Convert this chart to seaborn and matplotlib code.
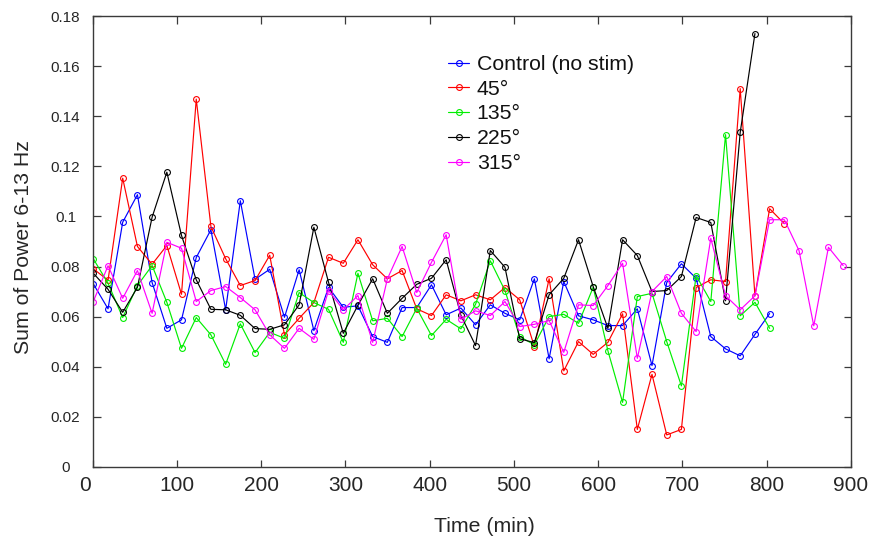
import matplotlib
matplotlib.use("Agg")
import matplotlib.pyplot as plt
from matplotlib.transforms import ScaledTranslation
import seaborn as sns

# Sampling times (min)
time_min = [0.7, 18.2, 35.6, 53.1, 70.5, 88.0, 105.4, 122.9, 140.3, 157.8,
            175.2, 192.7, 210.1, 227.6, 245.0, 262.5, 279.9, 297.4, 314.8, 332.3,
            349.7, 367.2, 384.6, 402.1, 419.5, 437.0, 454.4, 471.9, 489.3, 506.8,
            524.2, 541.7, 559.1, 576.6, 594.0, 611.5, 628.9, 646.4, 663.8, 681.3,
            698.7, 716.2, 733.6, 751.1, 768.5, 786.0, 803.4, 820.9, 838.3, 855.8,
            873.2, 890.7]

# Summed 6-13 Hz power per condition
control = [0.0731, 0.0631, 0.0977, 0.1087, 0.0736, 0.0553, 0.0587, 0.0836, 0.0947, 0.0627,
           0.1063, 0.0749, 0.0789, 0.0597, 0.0787, 0.0544, 0.0717, 0.0637, 0.0643, 0.0520,
           0.0497, 0.0636, 0.0636, 0.0727, 0.0607, 0.0634, 0.0567, 0.0647, 0.0613, 0.0587,
           0.0751, 0.0431, 0.0740, 0.0603, 0.0587, 0.0564, 0.0564, 0.0631, 0.0404, 0.0736,
           0.0811, 0.0753, 0.0520, 0.0471, 0.0443, 0.0529, 0.0612]
deg45 = [0.0791, 0.0745, 0.1153, 0.0880, 0.0809, 0.0884, 0.0689, 0.1469, 0.0960, 0.0831,
         0.0724, 0.0744, 0.0845, 0.0527, 0.0593, 0.0656, 0.0837, 0.0813, 0.0907, 0.0807,
         0.0751, 0.0784, 0.0631, 0.0604, 0.0687, 0.0663, 0.0687, 0.0667, 0.0716, 0.0667,
         0.0480, 0.0751, 0.0383, 0.0500, 0.0449, 0.0497, 0.0611, 0.0149, 0.0369, 0.0127,
         0.0149, 0.0716, 0.0747, 0.0740, 0.1511, 0.0683, 0.1031, 0.0971]
deg135 = [0.0831, 0.0733, 0.0596, 0.0724, 0.0804, 0.0657, 0.0473, 0.0596, 0.0527, 0.0409,
          0.0571, 0.0456, 0.0537, 0.0513, 0.0696, 0.0656, 0.0629, 0.0497, 0.0773, 0.0583,
          0.0593, 0.0520, 0.0633, 0.0524, 0.0589, 0.0551, 0.0649, 0.0823, 0.0704, 0.0520,
          0.0487, 0.0600, 0.0609, 0.0573, 0.0717, 0.0463, 0.0257, 0.0680, 0.0693, 0.0500,
          0.0323, 0.0764, 0.0660, 0.1327, 0.0603, 0.0657, 0.0553]
deg225 = [0.0773, 0.0709, 0.0617, 0.0717, 0.0997, 0.1177, 0.0924, 0.0747, 0.0629, 0.0627,
          0.0605, 0.0552, 0.0549, 0.0567, 0.0647, 0.0957, 0.0737, 0.0533, 0.0645, 0.0751,
          0.0613, 0.0673, 0.0729, 0.0753, 0.0827, 0.0605, 0.0484, 0.0864, 0.0797, 0.0511,
          0.0496, 0.0687, 0.0753, 0.0907, 0.0720, 0.0553, 0.0907, 0.0844, 0.0700, 0.0704,
          0.0760, 0.0996, 0.0976, 0.0663, 0.1336, 0.1731]
deg315 = [0.0660, 0.0803, 0.0673, 0.0784, 0.0613, 0.0897, 0.0873, 0.0660, 0.0704, 0.0720,
          0.0676, 0.0627, 0.0527, 0.0473, 0.0553, 0.0509, 0.0704, 0.0627, 0.0684, 0.0497,
          0.0750, 0.0880, 0.0696, 0.0817, 0.0927, 0.0589, 0.0623, 0.0604, 0.0660, 0.0560,
          0.0569, 0.0584, 0.0457, 0.0647, 0.0644, 0.0724, 0.0813, 0.0433, 0.0700, 0.0760,
          0.0613, 0.0540, 0.0913, 0.0683, 0.0627, 0.0683, 0.0987, 0.0987, 0.0864, 0.0563,
          0.0877, 0.0804]

series_labels = ["Control (no stim)", "45°", "135°", "225°", "315°"]
series_colors = ["#0000ff", "#ff0000", "#00ee00", "#000000", "#ff00ff"]
series_values = [control, deg45, deg135, deg225, deg315]

x_ticks = [0, 100, 200, 300, 400, 500, 600, 700, 800, 900]
y_ticks = [0, 0.02, 0.04, 0.06, 0.08, 0.10, 0.12, 0.14, 0.16, 0.18]
y_tick_labels = ["0", "0.02", "0.04", "0.06", "0.08", "0.1", "0.12", "0.14", "0.16", "0.18"]

sns.set_theme(style="ticks")
plt.rcParams["font.family"] = ["Liberation Sans", "DejaVu Sans"]
ink = "#262626"
frame = "#3a3a3a"

W, H = 869, 542
fig = plt.figure(figsize=(W / 100, H / 100), dpi=100)
left, right, top, bottom = 92.7, 851.0, 16.3, 466.7
ax = fig.add_axes([left / W, 1 - bottom / H, (right - left) / W, (bottom - top) / H])

for vals, lab, col in zip(series_values, series_labels, series_colors):
    sns.lineplot(x=time_min[:len(vals)], y=vals, ax=ax, color=col, label=lab,
                 linewidth=0.85, marker="o", markersize=4.2,
                 markerfacecolor="none", markeredgecolor=col, markeredgewidth=0.8,
                 errorbar=None, sort=False)

ax.set_xlim(0, 900)
ax.set_ylim(0, 0.18)
ax.set_xticks(x_ticks)
ax.set_xticklabels([str(v) for v in x_ticks])
ax.set_yticks(y_ticks)
ax.set_yticklabels(y_tick_labels)

for sp in ax.spines.values():
    sp.set_visible(True)
    sp.set_color(frame)
    sp.set_linewidth(1.0)

ax.tick_params(direction="in", length=5.4, width=0.9, color=frame,
               top=True, right=True, labelcolor=ink)
ax.tick_params(axis="x", labelsize=15, pad=6.5)
ax.tick_params(axis="y", labelsize=11, pad=19.5)
for lbl in ax.get_yticklabels():
    lbl.set_horizontalalignment("center")

# the leftmost time label sits a little left of its tick
first = ax.xaxis.get_major_ticks()[0].label1
first.set_transform(first.get_transform() + ScaledTranslation(-8 / 100, 0, fig.dpi_scale_trans))

ax.set_xlabel("Time (min)", fontsize=15.3, color=ink)
ax.set_ylabel("Sum of Power 6-13 Hz", fontsize=15.3, color=ink)
ax.xaxis.set_label_coords(0.517, -0.112)
ax.yaxis.set_label_coords(-0.079, 0.488)

leg = ax.legend(loc="upper left", bbox_to_anchor=(448 / W, 1 - 55 / H),
                bbox_transform=fig.transFigure, frameon=False, fontsize=15.3,
                handlelength=1.0, handletextpad=0.35, labelspacing=0.27,
                borderpad=0, borderaxespad=0, numpoints=1)
for t in leg.get_texts():
    t.set_color("#111111")

fig.savefig("out.png", dpi=100)
